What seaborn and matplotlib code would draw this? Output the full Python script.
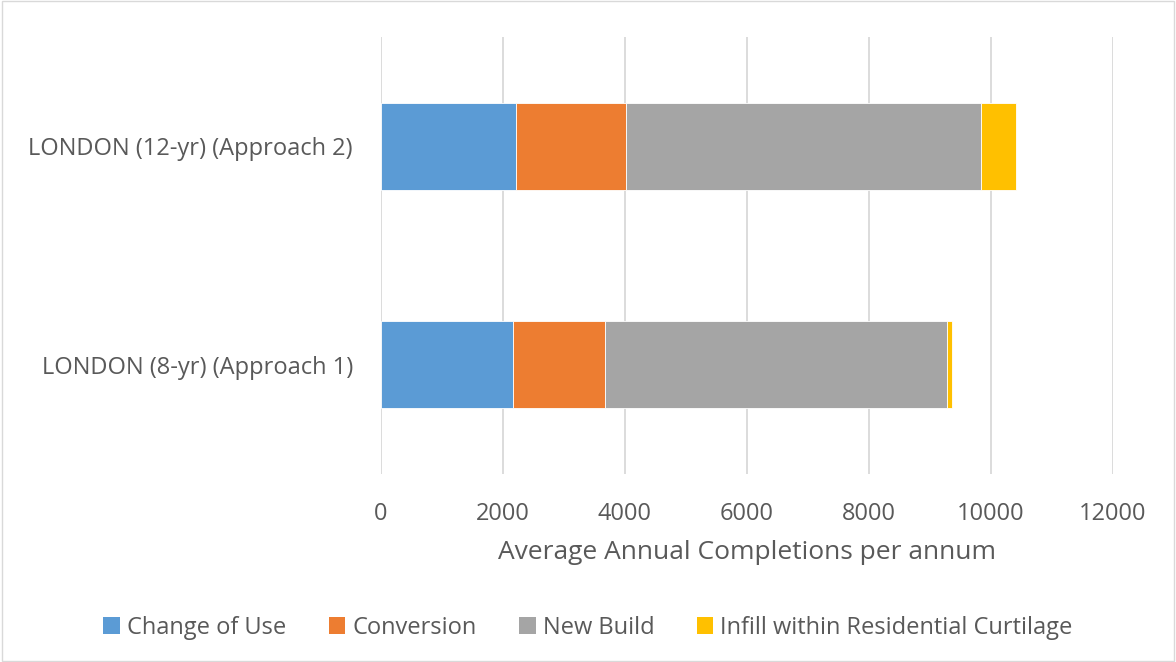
import numpy as np
import pandas as pd
import matplotlib
matplotlib.use("Agg")
import matplotlib.pyplot as plt
import seaborn as sns
from matplotlib.patches import Patch, Rectangle

categories = ["LONDON (12-yr) (Approach 2)", "LONDON (8-yr) (Approach 1)"]
change_of_use = [2221, 2167]
conversion = [1804, 1518]
new_build = [5824, 5597]
infill = [564, 82]

series_names = ["Change of Use", "Conversion", "New Build",
                "Infill within Residential Curtilage"]
series_values = [change_of_use, conversion, new_build, infill]
colors = ["#5B9BD5", "#ED7D31", "#A5A5A5", "#FFC000"]

sns.set_theme(style="white")
plt.rcParams['font.family'] = ['Open Sans', 'DejaVu Sans']

fig = plt.figure(figsize=(11.76, 6.62), dpi=100)
ax = fig.add_axes([0.3236, 0.284, 0.9462 - 0.3236, 0.944 - 0.284])

left = np.zeros(len(categories))
for name, vals, col in zip(series_names, series_values, colors):
    df = pd.DataFrame({"cat": categories, "val": vals})
    sns.barplot(data=df, y="cat", x="val", order=categories, color=col,
                left=left, width=0.4, orient="h", ax=ax,
                edgecolor="white", linewidth=0.6, saturation=1)
    left = left + np.array(vals)

ax.set_xlim(0, 12000)
ax.set_ylim(1.5, -0.5)
ax.set_xticks(np.arange(0, 12001, 2000))
ax.xaxis.grid(True, color="#D9D9D9", linewidth=1.3)
ax.set_axisbelow(True)
for s in ax.spines.values():
    s.set_visible(False)
ax.tick_params(axis="both", length=0, labelsize=17, labelcolor="#595959")
ax.tick_params(axis="x", pad=20)
ax.tick_params(axis="y", pad=20)
ax.set_ylabel("")
ax.set_xlabel("Average Annual Completions per annum", fontsize=19,
              color="#595959", labelpad=10)

handles = [Patch(facecolor=c, edgecolor="none") for c in colors]
fig.legend(handles, series_names, loc="center", bbox_to_anchor=(0.5, 0.052),
           ncol=4, frameon=False, fontsize=17, labelcolor="#595959",
           handlelength=0.7, handleheight=0.7, handletextpad=0.3,
           columnspacing=1.8)

fig.patches.append(Rectangle((0.002, 0.002), 0.996, 0.996, transform=fig.transFigure,
                             fill=False, edgecolor="#D9D9D9", linewidth=1))

fig.savefig("out.png", dpi=100)
